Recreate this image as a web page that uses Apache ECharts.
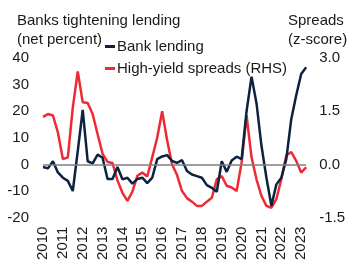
<!DOCTYPE html>
<html>
<head>
<meta charset="utf-8">
<script src="https://cdn.jsdelivr.net/npm/echarts@6/dist/echarts.min.js"></script>
<style>
html, body { margin: 0; padding: 0; background: #fff; }
#chart { width: 348px; height: 263px; }
</style>
</head>
<body>
<div id="chart"></div>
<script>
// quarterly, 2010Q1 - 2023Q2
var years = [2010, 2011, 2012, 2013, 2014, 2015, 2016, 2017, 2018, 2019, 2020, 2021, 2022, 2023];
var quarters = ['Q1', 'Q2', 'Q3', 'Q4'];
var lastQuarter = 2;

// banks tightening lending, net percent (LHS)
var bankLending = [
	-1, -1.5, 1.2, -3, -5, -6.2, -10, 5,
	20.5, 1.2, 0.4, 3.7, 2.5, -5.5, -5.5, -1,
	-5.6, -5, -7.2, -5.5, -5, -7, -5, 2,
	3, 3.5, 1.3, 0.6, 1.6, -2.5, -3.8, -4.4,
	-5, -7.8, -8.8, -10.3, 1.2, -2.8, 1.5, 2.9,
	2, 20, 33, 23, 7, -5, -15.5, -7.5,
	-5, 2, 17, 26, 34, 36.5
];

// high-yield spreads, z-score (RHS)
var hySpreads = [
	1.34, 1.42, 1.38, 0.9, 0.15, 0.2, 1.6, 2.62,
	1.75, 1.73, 1.42, 0.85, 0.3, 0.07, 0.04, -0.45,
	-0.8, -1.03, -0.77, -0.32, -0.23, -0.34, 0.2, 0.75,
	1.5, 0.68, 0.0, -0.3, -0.75, -0.95, -1.05, -1.17,
	-1.17, -1.05, -0.94, -0.42, -0.33, -0.6, -0.65, -0.75,
	0.05, 1.38, 0.2, -0.42, -0.89, -1.17, -1.22, -0.98,
	-0.42, 0.25, 0.35, 0.1, -0.23, -0.08
];

var leftTicks = {min: -20, max: 40, interval: 10};
var rightTicks = {min: -1.5, max: 3, interval: 1.5};

var categories = [];
for (var i = 0; i < years.length; i++) {
	for (var q = 0; q < 4; q++) {
		if (i == years.length - 1 && q >= lastQuarter) break;
		categories.push(years[i] + quarters[q]);
	}
}

var font = 'Liberation Sans';
var txt = '#1a1a1a';
var navy = '#0c2340';
var red = '#ee2a35';

var dom = document.getElementById('chart');
var myChart = echarts.init(dom);
var option = {
	animation: false,
	textStyle: {fontFamily: font},
	title: [
		{
			text: 'Banks tightening lending\n(net percent)',
			left: 12, top: 6,
			textStyle: {fontSize: 15, fontWeight: 'normal', color: txt, lineHeight: 19, fontFamily: font}
		},
		{
			text: 'Spreads\n(z-score)',
			left: 283, top: 6,
			textStyle: {fontSize: 15, fontWeight: 'normal', color: txt, lineHeight: 19, fontFamily: font}
		}
	],
	legend: {
		data: ['Bank lending', 'High-yield spreads (RHS)'],
		orient: 'vertical',
		left: 100, top: 34,
		itemGap: 7,
		itemWidth: 10, itemHeight: 3,
		icon: 'rect',
		textStyle: {fontSize: 15, color: txt, fontFamily: font, padding: [0, 0, 0, -3]}
	},
	grid: {left: 43, top: 58, width: 264, height: 160},
	xAxis: {
		type: 'category',
		data: categories,
		boundaryGap: false,
		axisLine: {show: false},
		axisTick: {show: false},
		splitLine: {show: false},
		axisLabel: {
			rotate: 90,
			interval: 3,
			margin: 9,
			fontSize: 15,
			color: txt,
			fontFamily: font,
			formatter: function (v) { return v.slice(0, 4); }
		}
	},
	yAxis: [
		{
			type: 'value',
			min: leftTicks.min, max: leftTicks.max, interval: leftTicks.interval,
			axisLine: {show: false},
			axisTick: {show: false},
			splitLine: {show: false},
			axisLabel: {fontSize: 15, color: txt, margin: 14, fontFamily: font}
		},
		{
			type: 'value',
			position: 'right',
			min: rightTicks.min, max: rightTicks.max, interval: rightTicks.interval,
			axisLine: {show: false},
			axisTick: {show: false},
			splitLine: {show: false},
			axisLabel: {
				fontSize: 15, color: txt, margin: 13, fontFamily: font,
				formatter: function (v) { return v.toFixed(1); }
			}
		}
	],
	series: [
		{
			// zero line
			type: 'line',
			data: [],
			z: 1,
			markLine: {
				silent: true,
				symbol: 'none',
				label: {show: false},
				lineStyle: {color: '#7f7f7f', width: 1.5, type: 'solid'},
				data: [{yAxis: 0}]
			}
		},
		{
			name: 'High-yield spreads (RHS)',
			type: 'line',
			yAxisIndex: 1,
			data: hySpreads,
			symbol: 'none',
			z: 2,
			itemStyle: {color: red},
			lineStyle: {color: red, width: 2.5}
		},
		{
			name: 'Bank lending',
			type: 'line',
			yAxisIndex: 0,
			data: bankLending,
			symbol: 'none',
			z: 3,
			itemStyle: {color: navy},
			lineStyle: {color: navy, width: 2.5}
		}
	]
};
myChart.setOption(option);
window.addEventListener('resize', function () {
	myChart.resize();
});
</script>
</body>
</html>
